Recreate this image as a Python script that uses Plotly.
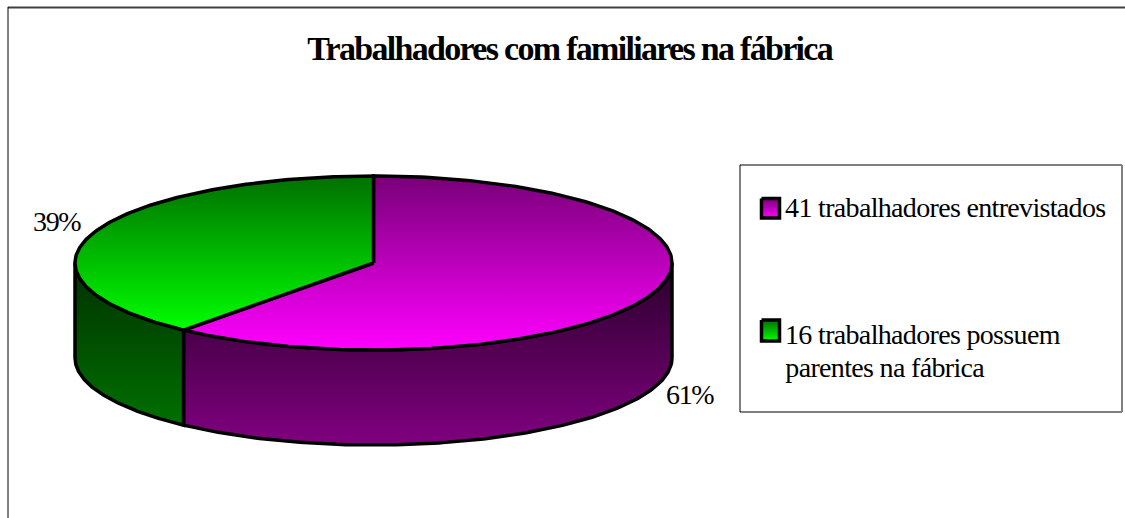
import numpy as np
import plotly.graph_objects as go

labels = ["41 trabalhadores entrevistados", "16 trabalhadores possuem", "parentes na fábrica"]
values = [25, 16]
pct_labels = ["61%", "39%"]
title = "Trabalhadores com familiares na fábrica"

top_scales = [["#780078", "#FF00FF"], ["#007000", "#00FF00"]]
side_scales = [["#2A002A", "#800080"], ["#003000", "#007000"]]

W, H = 1125, 518
cx, cy, rx, ry, depth = 373.5, 263, 298.5, 87, 95
SERIF = "Liberation Serif"
LW = 3.5


def cs(pair):
    return [[0, pair[0]], [1, pair[1]]]


def ell(t, dy=0.0):
    return cx + rx * np.sin(t), cy - ry * np.cos(t) + dy


def poly(x, y, grad, lw=LW):
    y0, y1 = float(np.min(y)), float(np.max(y))
    return go.Scatter(
        x=x, y=y, mode="lines", fill="toself",
        line=dict(color="black", width=lw),
        fillgradient=dict(type="vertical", colorscale=cs(grad), start=y0, stop=y1),
        hoverinfo="skip", showlegend=False,
    )


fig = go.Figure()
total = sum(values)
edges = np.concatenate([[0], np.cumsum(values)]) / total * 2 * np.pi

# side walls (visible lower half only, theta in [pi/2, 3pi/2])
for i in range(len(values)):
    a = max(edges[i], np.pi / 2)
    b = min(edges[i + 1], 3 * np.pi / 2)
    if b > a:
        t = np.linspace(a, b, 160)
        xt, yt = ell(t)
        xb, yb = ell(t[::-1], depth)
        fig.add_trace(poly(np.r_[xt, xb, xt[0]], np.r_[yt, yb, yt[0]], side_scales[i]))

# top faces
for i in range(len(values)):
    t = np.linspace(edges[i], edges[i + 1], 240)
    xt, yt = ell(t)
    fig.add_trace(poly(np.r_[cx, xt, cx], np.r_[cy, yt, cy], top_scales[i]))

# legend swatches
for i, (y0, y1) in enumerate([(198.5, 218), (320, 341)]):
    fig.add_trace(poly([761.5, 779.5, 779.5, 761.5, 761.5], [y0, y0, y1, y1, y0], top_scales[i], lw=3.5))

ann = [
    dict(x=569.5, y=48.5, text=f"<b>{title}</b>", font=dict(size=34, family=SERIF)),
    dict(x=689.5, y=394.5, text=pct_labels[0], font=dict(size=28, family=SERIF)),
    dict(x=56, y=221, text=pct_labels[1], font=dict(size=28, family=SERIF)),
    dict(x=945.5, y=207.5, text=labels[0], font=dict(size=28, family=SERIF)),
    dict(x=922, y=334, text=labels[1], font=dict(size=28, family=SERIF)),
    dict(x=885, y=367, text=labels[2], font=dict(size=28, family=SERIF)),
]
for a in ann:
    a.update(xref="x", yref="y", showarrow=False, borderpad=0, xanchor="center", yanchor="middle",
             font=dict(color="black", **a["font"]))

shapes = [
    dict(type="line", x0=8, y0=7.5, x1=1125, y1=7.5, line=dict(color="#404040", width=2)),
    dict(type="line", x0=8, y0=7, x1=8, y1=518, line=dict(color="black", width=1)),
    dict(type="rect", x0=740, y0=165, x1=1122, y1=412, line=dict(color="black", width=1), fillcolor="white", layer="below"),
    dict(type="line", x0=1122, y0=165, x1=1122, y1=412, line=dict(color="#808080", width=2), layer="below"),
]

fig.update_layout(
    width=W, height=H, margin=dict(l=0, r=0, t=0, b=0),
    paper_bgcolor="white", plot_bgcolor="white", showlegend=False,
    xaxis=dict(range=[0, W], visible=False, fixedrange=True),
    yaxis=dict(range=[H, 0], visible=False, fixedrange=True),
    annotations=ann, shapes=shapes,
)
post = """
document.documentElement.style.overflow='hidden';
document.body.style.margin='0';
var sp=['-1.7px','-1.4px','-1.4px','-0.67px','-0.67px','-0.67px'];
document.querySelectorAll('.annotation-text').forEach(function(el,i){el.style.letterSpacing=sp[i];});
"""
fig.write_html("out.html", config=dict(displayModeBar=False), post_script=post)
